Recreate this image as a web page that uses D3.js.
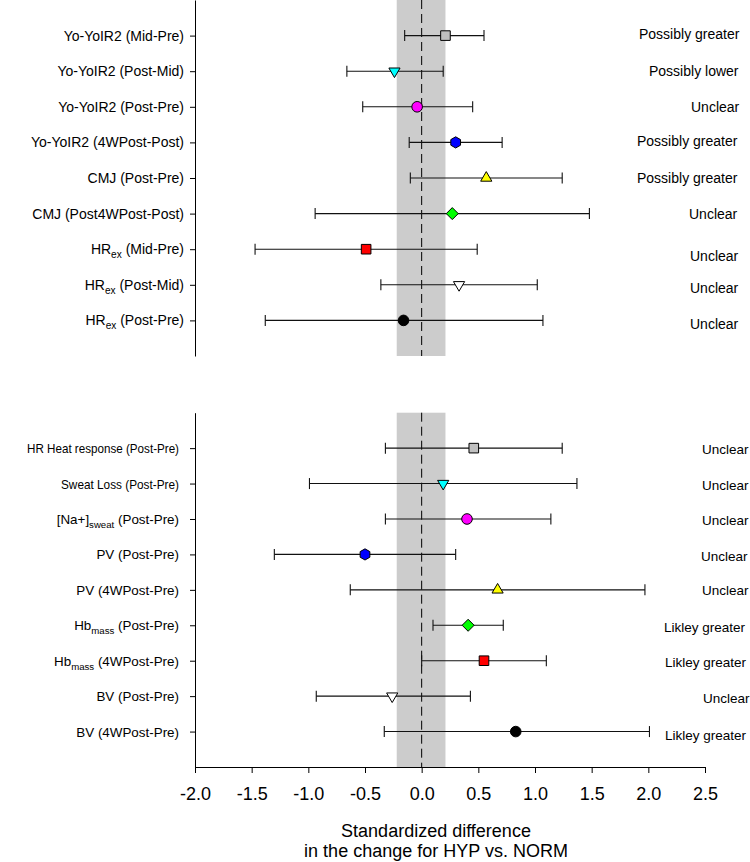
<!DOCTYPE html>
<html>
<head>
<meta charset="utf-8">
<script src="https://cdn.jsdelivr.net/npm/d3@7"></script>
<style>
  html, body { margin: 0; padding: 0; background: #fff; }
  svg { display: block; font-family: "Liberation Sans", Arial, sans-serif; }
</style>
</head>
<body>
<svg id="chart" width="750" height="862"></svg>
<script>
// ---------- DATA ----------
const topLabels = [
  "Yo-YoIR2 (Mid-Pre)", "Yo-YoIR2 (Post-Mid)", "Yo-YoIR2 (Post-Pre)", "Yo-YoIR2 (4WPost-Post)",
  "CMJ (Post-Pre)", "CMJ (Post4WPost-Post)", "HR_{ex} (Mid-Pre)", "HR_{ex} (Post-Mid)", "HR_{ex} (Post-Pre)"
];
const topMean  = [0.21, -0.24, -0.04, 0.30, 0.57, 0.27, -0.49, 0.33, -0.16];
const topLower = [-0.15, -0.66, -0.52, -0.11, -0.10, -0.94, -1.47, -0.36, -1.38];
const topUpper = [0.55, 0.19, 0.45, 0.71, 1.24, 1.48, 0.49, 1.02, 1.07];
const topOutcome = ["Possibly greater", "Possibly lower", "Unclear", "Possibly greater",
  "Possibly greater", "Unclear", "Unclear", "Unclear", "Unclear"];

const bottomLabels = [
  "HR Heat response (Post-Pre)", "Sweat Loss (Post-Pre)", "[Na+]_{sweat} (Post-Pre)", "PV (Post-Pre)",
  "PV (4WPost-Pre)", "Hb_{mass} (Post-Pre)", "Hb_{mass} (4WPost-Pre)", "BV (Post-Pre)", "BV (4WPost-Pre)"
];
const bottomMean  = [0.46, 0.19, 0.40, -0.50, 0.67, 0.41, 0.55, -0.26, 0.83];
const bottomLower = [-0.32, -0.99, -0.32, -1.30, -0.63, 0.10, 0.00, -0.93, -0.33];
const bottomUpper = [1.24, 1.37, 1.14, 0.30, 1.97, 0.72, 1.10, 0.43, 2.01];
const bottomOutcome = ["Unclear", "Unclear", "Unclear", "Unclear", "Unclear",
  "Likley greater", "Likley greater", "Unclear", "Likley greater"];

const markerShapes = ["square", "triDown", "circle", "hexagon", "triUp", "diamond", "square", "triDown", "circle"];
const markerColors = ["#c0c0c0", "#00ffff", "#ff00ff", "#0000ff", "#ffff00", "#00ff00", "#ff0000", "#ffffff", "#000000"];

const xTicks = [-2.0, -1.5, -1.0, -0.5, 0.0, 0.5, 1.0, 1.5, 2.0, 2.5];
const trivialBand = [-0.22, 0.21];
const xTitle = ["Standardized difference", "in the change for HYP vs. NORM"];

// ---------- LAYOUT ----------
const svg = d3.select("#chart");
const x = d3.scaleLinear().domain([-2, 2.5]).range([195, 705]);
const panels = [
  { labels: topLabels, mean: topMean, lo: topLower, hi: topUpper, outcome: topOutcome,
    y0: 0, y1: 356, labelEnd: 184, labelSize: 14, outSize: 14,
    labelFit: [null, null, null, null, null, null, null, null, null],
    outX: [639, 649, 691, 637, 637, 689, 690, 690, 690],
    outDy: [-2, 0, 0, -1, 0, 0, 6.5, 3, 4], xAxis: false },
  { labels: bottomLabels, mean: bottomMean, lo: bottomLower, hi: bottomUpper, outcome: bottomOutcome,
    y0: 412.7, y1: 767, labelEnd: 179, labelSize: 13.4, outSize: 13.5,
    labelFit: [152, 118, null, null, null, null, null, null, null],
    outX: [702, 702, 702, 701, 702, 664, 665, 703, 665],
    outDy: [0.6, 1.7, 0.7, 1.4, 0, 1.6, 1.6, 1.6, 3.4], xAxis: true }
];

function markerPath(shape) {
  const p = d3.path();
  switch (shape) {
    case "square": p.rect(-4.8, -4.8, 9.6, 9.6); break;
    case "circle": p.arc(0, 0, 5.3, 0, 2 * Math.PI); break;
    case "triDown": p.moveTo(-5.6, -3.2); p.lineTo(5.6, -3.2); p.lineTo(0, 6.4); p.closePath(); break;
    case "triUp": p.moveTo(-5.6, 3.2); p.lineTo(5.6, 3.2); p.lineTo(0, -6.4); p.closePath(); break;
    case "diamond": p.moveTo(0, -6); p.lineTo(6, 0); p.lineTo(0, 6); p.lineTo(-6, 0); p.closePath(); break;
    case "hexagon": {
      for (let k = 0; k < 6; k++) {
        const a = Math.PI / 6 + k * Math.PI / 3;
        const px = 5.6 * Math.cos(a), py = 5.6 * Math.sin(a);
        if (k === 0) p.moveTo(px, py); else p.lineTo(px, py);
      }
      p.closePath(); break;
    }
  }
  return p.toString();
}

function addLabel(sel, str, size) {
  const parts = str.split(/(_\{[^}]*\})/).filter(s => s.length);
  let shifted = false;
  parts.forEach(part => {
    const m = part.match(/^_\{([^}]*)\}$/);
    if (m) {
      sel.append("tspan").attr("font-size", size * 0.72).attr("dy", 4).text(m[1]);
      shifted = true;
    } else {
      const t = sel.append("tspan").text(part);
      if (shifted) { t.attr("dy", -4); shifted = false; }
    }
  });
}

panels.forEach(P => {
  const y = d3.scaleLinear().domain([0, 10]).range([P.y0, P.y1]);
  const g = svg.append("g");
  const idx = d3.range(9);

  // trivial band
  g.append("rect")
    .attr("x", x(trivialBand[0])).attr("width", x(trivialBand[1]) - x(trivialBand[0]))
    .attr("y", P.y0).attr("height", P.y1 - P.y0)
    .attr("fill", "#cccccc");

  // zero dashed line
  g.append("line")
    .attr("x1", x(0)).attr("x2", x(0)).attr("y1", P.y0).attr("y2", P.y1)
    .attr("stroke", "#000").attr("stroke-width", 1).attr("stroke-dasharray", "9,5");

  // y axis
  const yAxis = d3.axisLeft(y).tickValues(idx.map(i => i + 1)).tickFormat("").tickSize(5).tickSizeOuter(0);
  const ya = g.append("g").attr("transform", `translate(${x(-2)},0)`).call(yAxis);
  ya.selectAll("path,line").attr("stroke", "#000");

  // row labels
  idx.forEach(i => {
    const t = g.append("text")
      .attr("x", P.labelEnd).attr("y", y(i + 1) + 5)
      .attr("text-anchor", "end").attr("font-size", P.labelSize).attr("fill", "#000");
    if (P.labelFit[i]) {
      t.attr("textLength", P.labelFit[i]).attr("lengthAdjust", "spacingAndGlyphs").text(P.labels[i]);
    } else {
      addLabel(t, P.labels[i], P.labelSize);
    }
  });

  // error bars
  const bars = g.selectAll(".bar").data(idx).enter().append("g");
  bars.append("line")
    .attr("x1", i => x(P.lo[i])).attr("x2", i => x(P.hi[i]))
    .attr("y1", i => y(i + 1)).attr("y2", i => y(i + 1))
    .attr("stroke", "#111").attr("stroke-width", 1.1);
  [P.lo, P.hi].forEach(arr => {
    bars.append("line")
      .attr("x1", i => x(arr[i])).attr("x2", i => x(arr[i]))
      .attr("y1", i => y(i + 1) - 5.5).attr("y2", i => y(i + 1) + 5.5)
      .attr("stroke", "#111").attr("stroke-width", 1.1);
  });
  bars.append("path")
    .attr("transform", i => `translate(${x(P.mean[i])},${y(i + 1)})`)
    .attr("d", i => markerPath(markerShapes[i]))
    .attr("fill", i => markerColors[i])
    .attr("stroke", "#000").attr("stroke-width", 1);

  // outcome labels
  idx.forEach(i => {
    g.append("text")
      .attr("x", P.outX[i]).attr("y", y(i + 1) + P.outDy[i] + 5)
      .attr("font-size", P.outSize).attr("fill", "#000")
      .text(P.outcome[i]);
  });

  if (P.xAxis) {
    const xAxis = d3.axisBottom(x).tickValues(xTicks).tickFormat(d => d.toFixed(1)).tickSize(6).tickSizeOuter(0);
    const xa = g.append("g").attr("transform", `translate(0,${P.y1})`).call(xAxis);
    xa.selectAll("path,line").attr("stroke", "#000");
    xa.selectAll("text").attr("font-size", 18).attr("fill", "#000")
      .attr("font-family", "Liberation Sans, Arial, sans-serif").attr("dy", "1.35em");
    xTitle.forEach((line, k) => {
      svg.append("text")
        .attr("x", 436).attr("y", 837 + k * 20)
        .attr("text-anchor", "middle").attr("font-size", 18).attr("fill", "#000")
        .text(line);
    });
  }
});
</script>
</body>
</html>
